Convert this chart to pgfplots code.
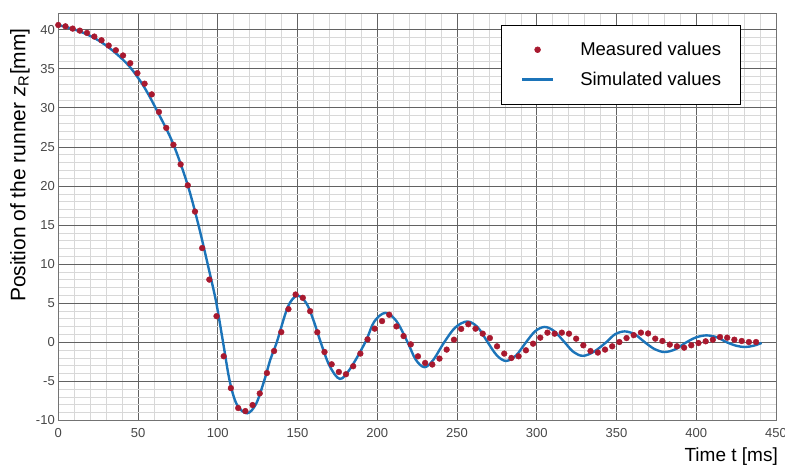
\documentclass[border=0pt]{standalone}
\usepackage{pgfplots}
\pgfplotsset{compat=1.18}
\usepackage{fontspec}
\setmainfont{Liberation Sans}
\definecolor{measred}{HTML}{A8192F}
\definecolor{simblue}{HTML}{1C74B9}
\definecolor{majgrid}{HTML}{626262}
\definecolor{mingrid}{HTML}{D8D8D8}

\begin{document}
\begin{tikzpicture}
\useasboundingbox (-58.3pt,-50.7pt) rectangle (726.7pt,420.3pt);
\begin{axis}[
  scale only axis,
  width=717.7pt, height=407pt,
  xmin=0, xmax=450, ymin=-10, ymax=42.1,
  xtick={0,50,...,450}, ytick={-10,-5,...,40},
  minor x tick num=4, minor y tick num=4,
  grid=both,
  major grid style={majgrid, line width=0.7pt},
  minor grid style={mingrid, line width=0.5pt},
  major tick length=0pt, minor tick length=0pt,
  axis line style={black!55, line width=0.7pt},
  /pgf/number format/assume math mode=true,
  tick label style={font=\fontsize{13}{13}\selectfont, text=black!72},
  xticklabel style={yshift=-4.7pt},
  xlabel={Time t [ms]},
  xlabel style={at={(axis description cs:1,0)}, anchor=north east,
    yshift=-27.7pt, xshift=2pt, inner sep=0pt, font=\fontsize{19}{19}\selectfont},
  ylabel={Position of the runner \textit{z}\textsubscript{R}[mm]},
  ylabel style={at={(axis description cs:-0.0534,0.627)}, anchor=center,
    inner sep=0pt, font=\fontsize{21}{21}\selectfont},
  reverse legend,
  legend image code/.code={
    \draw[mark repeat=2,mark phase=2,#1] plot coordinates {(0pt,0pt) (15.5pt,0pt) (31pt,0pt)};
    \path (57pt,0pt);
  },
  legend style={at={(axis description cs:0.9512,0.9713)}, anchor=north east,
    draw=black, line width=0.6pt, fill=white,
    font=\fontsize{18.5}{18.5}\selectfont,
    inner xsep=19.5pt, inner ysep=17pt, row sep=15pt,
    nodes={inner sep=0pt}, cells={anchor=west}},
]
% simulated values
\addplot[simblue, line width=2.4pt, smooth, tension=0.55] coordinates {
  (0,40.6) (9,40.1) (18,39.4) (27,38.4) (36,37.0) (45,35.2) (54,32.6)
  (63,29.2) (72,25.4) (81,20.2) (88,14.9) (95,8.8) (99.1,5.0) (103.3,0)
  (107.5,-5.0) (112,-8.0) (118.4,-9.1) (124,-7.9) (129,-5.0) (133,-2.2)
  (137,0) (143.9,4.5) (149.8,5.95) (155.5,5.0) (160,2.8) (164.5,0)
  (170,-3.0) (176.5,-4.7) (183,-3.4) (192.5,0) (198,2.6) (205,3.75)
  (212,2.7) (219,0) (224,-2.2) (229.5,-3.2) (235,-2.3) (242,0) (249,1.9)
  (256.5,2.65) (263,1.9) (269.2,0) (275,-1.7) (280.7,-2.4) (287,-1.7)
  (293.3,0) (299,1.4) (305,1.95) (311,1.4) (317.4,0) (323,-1.25)
  (329,-1.75) (336,-1.2) (343.6,0) (349,1.0) (355.1,1.38) (361.5,1.0)
  (367.7,0) (374,-0.9) (380.2,-1.26) (387,-0.9) (393.9,0) (400,0.62)
  (406.4,0.87) (413,0.62) (419,0) (425,-0.45) (430.5,-0.62) (436,-0.45)
  (441,-0.1)
};
\addlegendentry{Simulated values}
% measured values
\addplot[only marks, mark=*, mark size=2.9pt, measred, mark options={draw=none, fill=measred}] coordinates {
  (0,40.6) (4.5,40.43) (9.0,40.14) (13.5,39.88) (18.0,39.59) (22.6,39.12)
  (27.1,38.65) (31.6,37.97) (36.1,37.37) (40.6,36.70) (45.1,35.71)
  (49.6,34.44) (54.1,33.09) (58.6,31.72) (63.1,29.47) (67.7,27.43)
  (72.2,25.27) (76.7,22.76) (81.2,20.08) (85.7,16.72) (90.2,12.05)
  (94.7,8.01) (99.2,3.33) (103.7,-1.80) (108.2,-5.88) (112.8,-8.43)
  (117.3,-8.82) (121.8,-8.05) (126.3,-6.56) (130.8,-3.95) (135.3,-1.13)
  (139.8,1.29) (144.3,4.23) (148.8,6.10) (153.3,5.68) (157.9,3.97)
  (162.4,1.27) (166.9,-1.26) (171.4,-2.83) (175.9,-3.81) (180.4,-4.10)
  (184.9,-3.08) (189.4,-1.46) (193.9,0.36) (198.4,1.73) (203.0,2.70)
  (207.5,3.51) (212.0,2.02) (216.5,0.78) (221.0,-0.28) (225.5,-1.81)
  (230.0,-2.66) (234.5,-2.86) (239.0,-2.10) (243.5,-0.95) (248.1,0.32)
  (252.6,1.70) (257.1,2.30) (261.6,1.73) (266.1,1.09) (270.6,0.53)
  (275.1,-0.53) (279.6,-1.46) (284.1,-2.02) (288.6,-1.81) (293.2,-1.04)
  (297.7,-0.19) (302.2,0.58) (306.7,1.22) (311.2,1.09) (315.7,1.22)
  (320.2,1.09) (324.7,0.45) (329.2,-0.40) (333.7,-1.13) (338.3,-1.33)
  (342.8,-0.95) (347.3,-0.53) (351.8,0.02) (356.3,0.53) (360.8,0.90)
  (365.3,1.22) (369.8,1.12) (374.3,0.45) (378.8,0.15) (383.4,-0.31)
  (387.9,-0.53) (392.4,-0.70) (396.9,-0.40) (401.4,-0.11) (405.9,0.11)
  (410.4,0.32) (414.9,0.66) (419.4,0.58) (423.9,0.32) (428.5,0.15)
  (433.0,0.02) (437.5,0.02)
};
\addlegendentry{Measured values}
\end{axis}
\end{tikzpicture}
\end{document}
